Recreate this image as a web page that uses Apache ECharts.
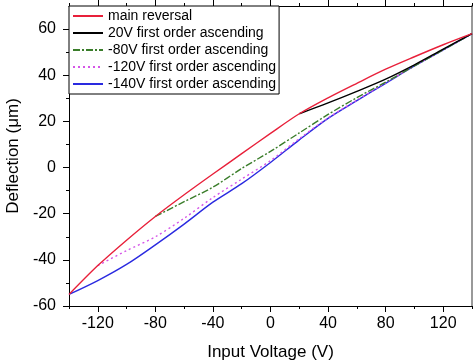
<!DOCTYPE html>
<html>
<head>
<meta charset="utf-8">
<script src="https://cdn.jsdelivr.net/npm/echarts@6/dist/echarts.min.js"></script>
<style>html,body{margin:0;padding:0;background:#fff}#c{width:474px;height:362px}</style>
</head>
<body>
<div id="c"></div>
<script>
const seriesNames = ['main reversal', '20V first order ascending', '-80V first order ascending', '-120V first order ascending', '-140V first order ascending'];
const mainV = [-140, -120, -100, -80, -60, -40, -20, 0, 20, 40, 60, 80, 100, 120, 140];
const mainD = [-55, -42.5, -31.5, -21.2, -11.8, -2.8, 6, 14.8, 23.3, 30.2, 36.5, 42.6, 48, 53.2, 58];
const v20V = [20, 40, 60, 80, 100, 120, 140];
const v20D = [23.3, 28, 33, 38.3, 44.5, 51.3, 58];
const v80V = [-80, -60, -40, -20, 0, 20, 40, 60, 80, 100, 120, 140];
const v80D = [-21.2, -14.8, -8.5, -0.4, 7, 15, 23, 30.3, 37, 44, 51, 58];
const v120V = [-120, -100, -80, -60, -40, -20, 0, 20, 40, 60, 80, 100, 120, 140];
const v120D = [-42.5, -36, -30, -22, -13, -5, 3, 12.5, 21.5, 29.2, 36.7, 44.1, 51, 58];
const v140V = [-140, -120, -100, -80, -60, -40, -20, 0, 20, 40, 60, 80, 100, 120, 140];
const v140D = [-55, -49, -42, -33.5, -24.5, -15, -7, 2.2, 12, 21.3, 29, 36.5, 44, 51, 58];
const xMajor = [-120, -80, -40, 0, 40, 80, 120];
const xMinor = [-140, -100, -60, -20, 20, 60, 100, 140];
const yMajor = [-60, -40, -20, 0, 20, 40, 60];
const yMinor = [-50, -30, -10, 10, 30, 50];

const pair = (xs, ys) => xs.map((x, i) => [x, ys[i]]);
const FONT = 'Liberation Sans, Arial, sans-serif';
const colors = ['#e8203a', '#000000', '#3a7d2a', '#d555e8', '#2a2ae0'];
const dashes = ['solid', 'solid', [7, 2, 2, 2], [2, 3], 'solid'];
const datas = [pair(mainV, mainD), pair(v20V, v20D), pair(v80V, v80D), pair(v120V, v120D), pair(v140V, v140D)];

const chart = echarts.init(document.getElementById('c'));
const axLine = {show: true, onZero: false, lineStyle: {color: '#000', width: 1}};
const noLine = {show: false, onZero: false};
chart.setOption({
  animation: false,
  grid: {left: 69, right: 2, top: 6, bottom: 56, containLabel: false, outerBoundsMode: 'none'},
  legend: {
    orient: 'vertical', left: 69, top: 6,
    borderColor: '#000', borderWidth: 1, borderRadius: 0,
    padding: [3, 3, 3, 3], itemGap: 3, itemWidth: 30, itemHeight: 14,
    backgroundColor: '#fff',
    itemStyle: {opacity: 0},
    textStyle: {fontFamily: FONT, fontSize: 14, color: '#000'},
    data: seriesNames
  },
  xAxis: [
    {type: 'value', min: -140, max: 140, position: 'bottom',
     name: 'Input Voltage (V)', nameLocation: 'middle', nameGap: 38,
     nameTextStyle: {fontFamily: FONT, fontSize: 17, color: '#000'},
     axisLine: axLine, splitLine: {show: false},
     axisTick: {show: true, length: 6, customValues: xMajor, lineStyle: {color: '#000'}},
     axisLabel: {customValues: xMajor, fontFamily: FONT, fontSize: 16, color: '#000', margin: 10}},
    {type: 'value', min: -140, max: 140, position: 'bottom',
     axisLine: noLine, splitLine: {show: false},
     axisTick: {show: true, length: 3, customValues: xMinor, lineStyle: {color: '#000'}},
     axisLabel: {show: false}},
    {type: 'value', min: -140, max: 140, position: 'top',
     axisLine: axLine, splitLine: {show: false},
     axisTick: {show: true, length: 6, customValues: xMajor, lineStyle: {color: '#000'}},
     axisLabel: {show: false}},
    {type: 'value', min: -140, max: 140, position: 'top',
     axisLine: noLine, splitLine: {show: false},
     axisTick: {show: true, length: 3, customValues: xMinor, lineStyle: {color: '#000'}},
     axisLabel: {show: false}}
  ],
  yAxis: [
    {type: 'value', min: -60, max: 70, position: 'left',
     name: 'Deflection (\u03bcm)', nameLocation: 'middle', nameGap: 47,
     nameTextStyle: {fontFamily: FONT, fontSize: 17, color: '#000'},
     axisLine: axLine, splitLine: {show: false},
     axisTick: {show: true, length: 6, customValues: yMajor, lineStyle: {color: '#000'}},
     axisLabel: {customValues: yMajor, fontFamily: FONT, fontSize: 16, color: '#000', margin: 13}},
    {type: 'value', min: -60, max: 70, position: 'left',
     axisLine: noLine, splitLine: {show: false},
     axisTick: {show: true, length: 3, customValues: yMinor, lineStyle: {color: '#000'}},
     axisLabel: {show: false}},
    {type: 'value', min: -60, max: 70, position: 'right',
     axisLine: {show: true, onZero: false, lineStyle: {color: '#999', width: 2}}, splitLine: {show: false},
     axisTick: {show: false}, axisLabel: {show: false}}
  ],
  series: seriesNames.map((n, i) => ({
    name: n, type: 'line', data: datas[i], smooth: 0.3, showSymbol: false, symbol: 'none',
    xAxisIndex: 0, yAxisIndex: 0,
    lineStyle: {color: colors[i], width: 1.4, type: dashes[i]},
    itemStyle: {color: colors[i]},
    z: 10 - i
  }))
});
</script>
</body>
</html>
